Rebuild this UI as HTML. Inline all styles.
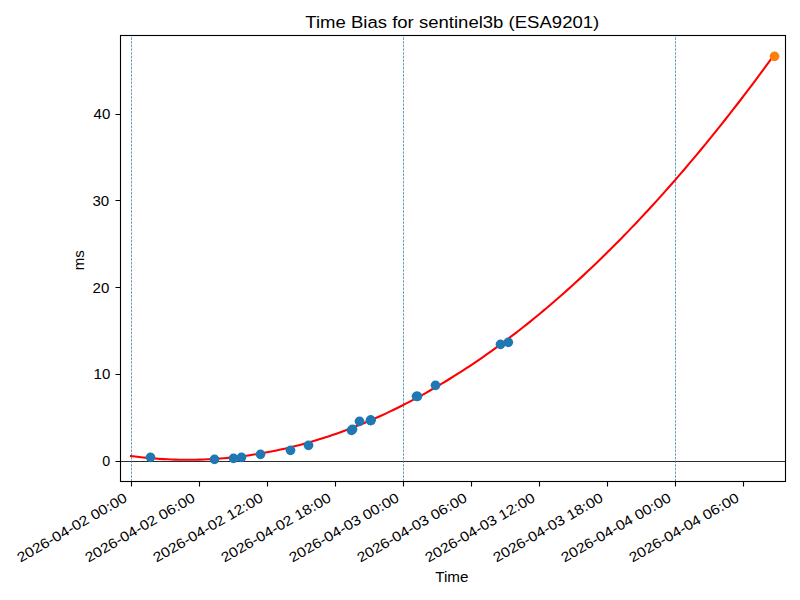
<!DOCTYPE html>
<html lang="en"><head><meta charset="utf-8"><title>Time Bias for sentinel3b (ESA9201)</title>
<style>html,body{margin:0;padding:0;background:#fff;font-family:"Liberation Sans",sans-serif}svg{display:block}</style></head>
<body>
<svg width="800" height="600" viewBox="0 0 800 600" role="img">
<rect width="800" height="600" fill="#fff"/>
<defs><clipPath id="ax"><rect x="120" y="35" width="665" height="446"/></clipPath></defs>
<g clip-path="url(#ax)">
<path d="M120 461.5H785" stroke="#000" stroke-width="0.83" fill="none"/>
<path d="M131.5 481.5V35.5" stroke="#1f77b4" stroke-width="0.69" stroke-dasharray="2.57 1.11" fill="none"/>
<path d="M403.5 481.5V35.5" stroke="#1f77b4" stroke-width="0.69" stroke-dasharray="2.57 1.11" fill="none"/>
<path d="M675.5 481.5V35.5" stroke="#1f77b4" stroke-width="0.69" stroke-dasharray="2.57 1.11" fill="none"/>
<path d="M131 456.06 L135.04 456.58 L139.08 457.05 L143.12 457.49 L147.17 457.89 L151.21 458.26 L155.25 458.58 L159.29 458.87 L163.33 459.12 L167.37 459.32 L171.42 459.5 L175.46 459.63 L179.5 459.72 L183.54 459.78 L187.58 459.79 L191.62 459.77 L195.66 459.71 L199.71 459.61 L203.75 459.48 L207.79 459.3 L211.83 459.09 L215.87 458.84 L219.91 458.55 L223.95 458.22 L228 457.85 L232.04 457.45 L236.08 457 L240.12 456.52 L244.16 456 L248.2 455.44 L252.25 454.84 L256.29 454.21 L260.33 453.53 L264.37 452.82 L268.41 452.07 L272.45 451.28 L276.49 450.45 L280.54 449.58 L284.58 448.68 L288.62 447.74 L292.66 446.75 L296.7 445.73 L300.74 444.68 L304.78 443.58 L308.83 442.44 L312.87 441.27 L316.91 440.06 L320.95 438.81 L324.99 437.52 L329.03 436.19 L333.08 434.83 L337.12 433.42 L341.16 431.98 L345.2 430.5 L349.24 428.98 L353.28 427.42 L357.32 425.82 L361.37 424.19 L365.41 422.52 L369.45 420.8 L373.49 419.05 L377.53 417.27 L381.57 415.44 L385.62 413.57 L389.66 411.67 L393.7 409.73 L397.74 407.75 L401.78 405.73 L405.82 403.67 L409.86 401.58 L413.91 399.44 L417.95 397.27 L421.99 395.06 L426.03 392.81 L430.07 390.52 L434.11 388.19 L438.15 385.83 L442.2 383.43 L446.24 380.99 L450.28 378.51 L454.32 375.99 L458.36 373.43 L462.4 370.84 L466.45 368.2 L470.49 365.53 L474.53 362.82 L478.57 360.07 L482.61 357.28 L486.65 354.46 L490.69 351.59 L494.74 348.69 L498.78 345.75 L502.82 342.77 L506.86 339.75 L510.9 336.7 L514.94 333.6 L518.98 330.47 L523.03 327.3 L527.07 324.09 L531.11 320.84 L535.15 317.56 L539.19 314.23 L543.23 310.87 L547.28 307.47 L551.32 304.02 L555.36 300.55 L559.4 297.03 L563.44 293.47 L567.48 289.88 L571.52 286.25 L575.57 282.58 L579.61 278.87 L583.65 275.12 L587.69 271.33 L591.73 267.51 L595.77 263.65 L599.82 259.75 L603.86 255.81 L607.9 251.83 L611.94 247.81 L615.98 243.76 L620.02 239.66 L624.06 235.53 L628.11 231.36 L632.15 227.15 L636.19 222.91 L640.23 218.62 L644.27 214.3 L648.31 209.94 L652.35 205.53 L656.4 201.1 L660.44 196.62 L664.48 192.1 L668.52 187.55 L672.56 182.96 L676.6 178.32 L680.65 173.65 L684.69 168.95 L688.73 164.2 L692.77 159.42 L696.81 154.59 L700.85 149.73 L704.89 144.83 L708.94 139.89 L712.98 134.92 L717.02 129.9 L721.06 124.85 L725.1 119.75 L729.14 114.62 L733.18 109.46 L737.23 104.25 L741.27 99 L745.31 93.72 L749.35 88.4 L753.39 83.03 L757.43 77.64 L761.48 72.2 L765.52 66.72 L769.56 61.21 L773.6 55.65" stroke="#f00" stroke-width="2.08" stroke-linecap="square" stroke-linejoin="round" fill="none"/>
<g fill="#1f77b4"><circle cx="150.5" cy="457.35" r="4.86"/><circle cx="214.5" cy="459.35" r="4.86"/><circle cx="233.5" cy="458.35" r="4.86"/><circle cx="241.5" cy="457.35" r="4.86"/><circle cx="260.5" cy="454.35" r="4.86"/><circle cx="290.5" cy="450.35" r="4.86"/><circle cx="308.5" cy="445.35" r="4.86"/><circle cx="351.5" cy="430.35" r="4.86"/><circle cx="352.5" cy="429.35" r="4.86"/><circle cx="359.5" cy="421.35" r="4.86"/><circle cx="370.7" cy="420.35" r="4.86"/><circle cx="370.7" cy="420.35" r="4.86"/><circle cx="370.7" cy="420.35" r="4.86"/><circle cx="370.7" cy="420.35" r="4.86"/><circle cx="416.5" cy="396.35" r="4.86"/><circle cx="417.5" cy="396.35" r="4.86"/><circle cx="435.5" cy="385.35" r="4.86"/><circle cx="500.5" cy="344.35" r="4.86"/><circle cx="508.3" cy="342.35" r="4.86"/></g>
<circle cx="774.5" cy="56.35" r="4.86" fill="#ff7f0e"/>
</g>
<path d="M131.5 481.5V486.5M199.5 481.5V486.5M267.5 481.5V486.5M335.5 481.5V486.5M403.5 481.5V486.5M471.5 481.5V486.5M539.5 481.5V486.5M607.5 481.5V486.5M675.5 481.5V486.5M743.5 481.5V486.5M120.5 461.5H115.5M120.5 374.5H115.5M120.5 287.5H115.5M120.5 200.5H115.5M120.5 114.5H115.5" stroke="#000" stroke-width="1.11" fill="none"/>
<rect x="120.5" y="35.5" width="665" height="446" stroke="#000" stroke-width="1.11" fill="none"/>
<g id="labels" fill="#000" stroke="none" font-family="Liberation Sans, sans-serif">
<text x="305.3" y="28" font-size="16.67" textLength="293.96" lengthAdjust="spacingAndGlyphs">Time Bias for sentinel3b (ESA9201)</text>
<text x="93.55" y="119" font-size="13.89" textLength="16.75" lengthAdjust="spacingAndGlyphs">40</text>
<text x="92.5" y="206" font-size="13.89" textLength="16.75" lengthAdjust="spacingAndGlyphs">30</text>
<text x="92.6" y="293" font-size="13.89" textLength="16.75" lengthAdjust="spacingAndGlyphs">20</text>
<text x="93.55" y="379" font-size="13.89" textLength="16.75" lengthAdjust="spacingAndGlyphs">10</text>
<text x="102.39" y="466" font-size="13.89" textLength="7.91" lengthAdjust="spacingAndGlyphs">0</text>
<text x="84" y="270.3" font-size="13.89" textLength="20.09" lengthAdjust="spacingAndGlyphs" transform="rotate(-90 84 270.3)">ms</text>
<text x="20.51" y="562.82" font-size="13.89" textLength="124.23" lengthAdjust="spacingAndGlyphs" transform="rotate(-30 20.51 562.82)">2026-04-02 00:00</text>
<text x="88.51" y="562.82" font-size="13.89" textLength="124.23" lengthAdjust="spacingAndGlyphs" transform="rotate(-30 88.51 562.82)">2026-04-02 06:00</text>
<text x="156.51" y="562.82" font-size="13.89" textLength="124.23" lengthAdjust="spacingAndGlyphs" transform="rotate(-30 156.51 562.82)">2026-04-02 12:00</text>
<text x="224.51" y="562.82" font-size="13.89" textLength="124.23" lengthAdjust="spacingAndGlyphs" transform="rotate(-30 224.51 562.82)">2026-04-02 18:00</text>
<text x="292.51" y="562.82" font-size="13.89" textLength="124.23" lengthAdjust="spacingAndGlyphs" transform="rotate(-30 292.51 562.82)">2026-04-03 00:00</text>
<text x="360.51" y="562.82" font-size="13.89" textLength="124.23" lengthAdjust="spacingAndGlyphs" transform="rotate(-30 360.51 562.82)">2026-04-03 06:00</text>
<text x="428.51" y="562.82" font-size="13.89" textLength="124.23" lengthAdjust="spacingAndGlyphs" transform="rotate(-30 428.51 562.82)">2026-04-03 12:00</text>
<text x="496.51" y="562.82" font-size="13.89" textLength="124.23" lengthAdjust="spacingAndGlyphs" transform="rotate(-30 496.51 562.82)">2026-04-03 18:00</text>
<text x="564.51" y="562.82" font-size="13.89" textLength="124.23" lengthAdjust="spacingAndGlyphs" transform="rotate(-30 564.51 562.82)">2026-04-04 00:00</text>
<text x="632.51" y="562.82" font-size="13.89" textLength="124.23" lengthAdjust="spacingAndGlyphs" transform="rotate(-30 632.51 562.82)">2026-04-04 06:00</text>
<text x="435.2" y="582" font-size="13.89" textLength="33.24" lengthAdjust="spacingAndGlyphs">Time</text>
</g>
</svg>
</body></html>
